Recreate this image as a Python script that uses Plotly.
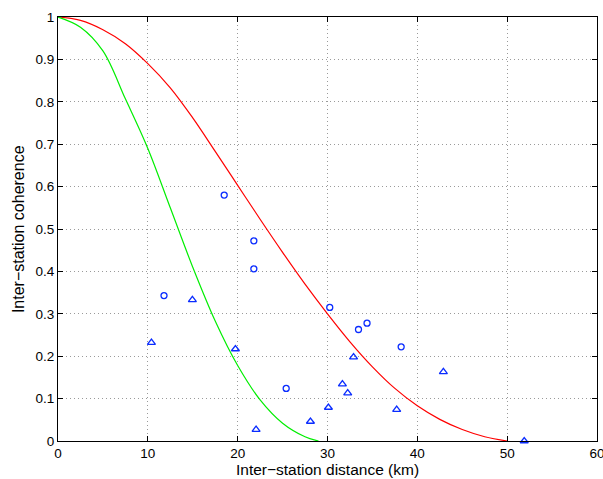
import plotly.graph_objects as go

# Red model curve (every 2.5 km)
red_x = [0, 2.5, 5, 7.5, 10, 12.5, 15, 17.5, 20, 22.5, 25, 27.5, 30, 32.5, 35, 37.5, 40, 42.5, 45, 47.5, 50]
red_y = [1.0, 0.992, 0.97, 0.937, 0.89, 0.833, 0.762, 0.683, 0.603, 0.523, 0.445, 0.37, 0.30, 0.234, 0.175,
         0.124, 0.083, 0.051, 0.027, 0.01, 0.0]

# Green model curve
green_x = [0, 2.5, 5, 7.5, 10, 12.5, 15, 17.5, 20, 22.5, 25, 27.5, 29]
green_y = [1.0, 0.976, 0.92, 0.807, 0.69, 0.55, 0.41, 0.283, 0.178, 0.097, 0.042, 0.01, 0.0]

# Circle observations
circ_x = [11.8, 18.5, 21.8, 21.8, 25.4, 30.25, 33.45, 34.4, 38.2]
circ_y = [0.343, 0.580, 0.472, 0.406, 0.124, 0.315, 0.263, 0.278, 0.222]

# Triangle observations
tri_x = [10.4, 14.96, 19.75, 22.05, 28.1, 30.1, 31.66, 32.25, 32.9, 37.7, 42.9, 51.9]
tri_y = [0.232, 0.333, 0.217, 0.027, 0.046, 0.079, 0.134, 0.113, 0.198, 0.074, 0.163, 0.0]

x_ticks = [0, 10, 20, 30, 40, 50, 60]
y_ticks = [0, 0.1, 0.2, 0.3, 0.4, 0.5, 0.6, 0.7, 0.8, 0.9, 1]
y_ticktext = ["0", "0.1", "0.2", "0.3", "0.4", "0.5", "0.6", "0.7", "0.8", "0.9", "1"]

x_title = "Inter−station distance (km)"
y_title = "Inter−station coherence"

blue = "#0a2cff"
fig = go.Figure()
fig.add_trace(go.Scatter(x=red_x, y=red_y, mode="lines",
                         line=dict(color="#ff0000", width=1.2, shape="spline", smoothing=1.0),
                         showlegend=False))
fig.add_trace(go.Scatter(x=green_x, y=green_y, mode="lines",
                         line=dict(color="#00ee00", width=1.2, shape="spline", smoothing=1.0),
                         showlegend=False))
fig.add_trace(go.Scatter(x=circ_x, y=circ_y, mode="markers",
                         marker=dict(symbol="circle-open", size=6, color=blue,
                                     line=dict(width=1.3, color=blue)),
                         showlegend=False, cliponaxis=False))
fig.add_trace(go.Scatter(x=tri_x, y=tri_y, mode="markers",
                         marker=dict(symbol="triangle-up-open", size=7, color=blue,
                                     line=dict(width=1.3, color=blue)),
                         showlegend=False, cliponaxis=False))

font_family = "Liberation Sans, Arial, Helvetica, sans-serif"
axis_common = dict(ticks="inside", ticklen=5, tickcolor="black",
                   showline=True, linecolor="black", linewidth=1, mirror="ticks",
                   showgrid=True, gridcolor="#9a9a9a", griddash="1px,3px", gridwidth=1,
                   zeroline=False, tickfont=dict(size=13.5), automargin=False,
                   ticklabeloverflow="allow")
fig.update_layout(
    width=603, height=479,
    margin=dict(l=58, r=6, t=17, b=38),
    paper_bgcolor="white", plot_bgcolor="white",
    font=dict(family=font_family, size=15, color="black"),
    xaxis=dict(range=[0, 60], tickvals=x_ticks, **axis_common),
    yaxis=dict(range=[0, 1], tickvals=y_ticks, ticktext=y_ticktext, **axis_common),
    annotations=[
        dict(text=x_title, xref="paper", yref="paper", x=0.5, y=-0.0675,
             xanchor="center", yanchor="middle", showarrow=False, borderpad=0,
             font=dict(size=15.5)),
        dict(text=y_title, xref="paper", yref="paper", x=-0.074, y=0.5, textangle=-90,
             xanchor="center", yanchor="middle", showarrow=False, font=dict(size=16)),
    ],
)

fig.write_html("out.html")
